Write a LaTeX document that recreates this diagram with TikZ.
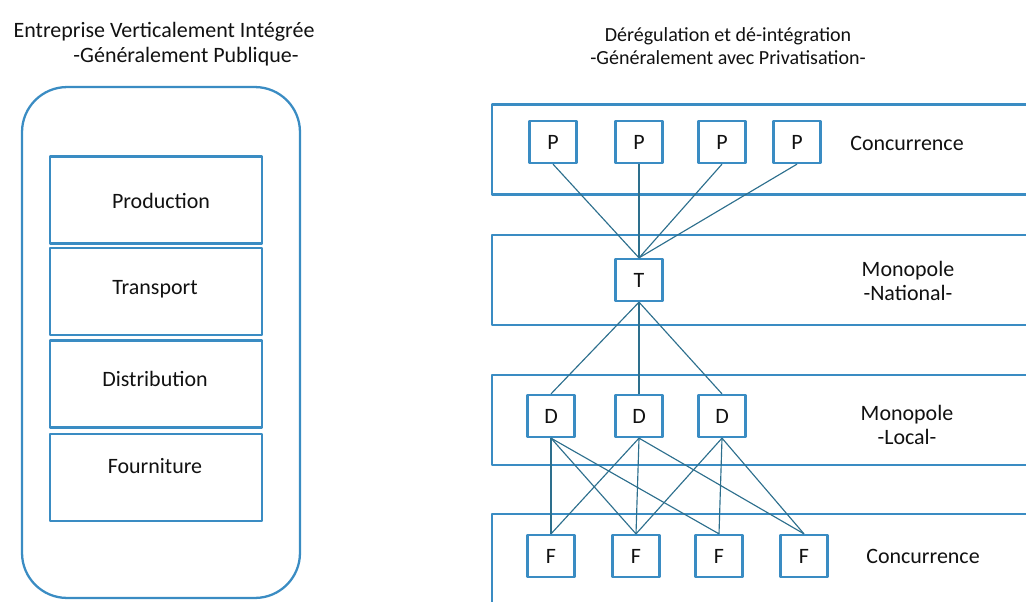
\documentclass[tikz,border=0pt]{standalone}
\usepackage{fontspec}
\setmainfont{Carlito}
\usepackage{xcolor}
\usepackage{tikz}
\usetikzlibrary{positioning}
\definecolor{udBlue}{HTML}{3A8CC3}
\definecolor{udLink}{HTML}{2D6F8D}
\definecolor{udInk}{HTML}{111111}
\tikzset{
  ud diagram/.style={font=\fontsize{12.5pt}{13.6pt}\selectfont, text=udInk,
    line join=round},
  ud frame/.style={draw=udBlue, line width=1.3pt, rounded corners=0.9cm,
    minimum width=5.56cm, minimum height=10.22cm},
  ud layer/.style={draw=udBlue, line width=1.3pt,
    minimum width=4.24cm, minimum height=1.74cm},
  ud band/.style={draw=udBlue, line width=1.3pt,
    minimum width=10.96cm, minimum height=1.8cm},
  ud actor/.style={draw=udBlue, fill=white, line width=1.3pt,
    minimum width=0.94cm, minimum height=0.84cm, inner sep=0pt},
  ud link/.style={draw=udLink, line width=0.65pt},
  ud tag/.style={align=center},
  ud heading/.style={align=center, font=\fontsize{11.4pt}{13pt}\selectfont}
}
\begin{document}
\begin{tikzpicture}[ud diagram, x=0.02cm, y=-0.02cm]
\clip (0,0) rectangle (1026,601);
% integrated firm
\node[ud tag] (titleL) at (164,32) {Entreprise Verticalement Intégrée};
\node[ud tag] (subL) at (186,57) {-Généralement Publique-};
\node[ud frame] (firm) at (161,342.5) {};
\node[ud layer] (prod) at (156,200) {};
\node[ud layer] (trans) at (156,291.5) {};
\node[ud layer] (dist) at (156,384) {};
\node[ud layer] (fourn) at (156,477.5) {};
\node (prodTxt) at (161,201) {Production};
\node (transTxt) at (155,289) {Transport};
\node (distTxt) at (155,379) {Distribution};
\node (fournTxt) at (155,466) {Fourniture};
% unbundled sector
\node[ud heading] (titleR) at (728,46) {Dérégulation et dé-intégration\\-Généralement avec Privatisation-};
\node[ud band] (bandP) at (766,149.5) {};
\node[ud band] (bandT) at (766,280) {};
\node[ud band] (bandD) at (766,420) {};
\node[ud band] (bandF) at (766,559) {};
\node[ud tag] (lblP) at (907,143) {Concurrence};
\node[ud tag] (lblT) at (908,281) {Monopole\\-National-};
\node[ud tag] (lblD) at (907,425) {Monopole\\-Local-};
\node[ud tag] (lblF) at (923,556) {Concurrence};
\node[ud actor] (p1) at (553,142) {P};
\node[ud actor] (p2) at (639,142) {P};
\node[ud actor] (p3) at (722,142) {P};
\node[ud actor] (p4) at (797,142) {P};
\node[ud actor] (t) at (639,280) {T};
\node[ud actor] (d1) at (551,416) {D};
\node[ud actor] (d2) at (639,416) {D};
\node[ud actor] (d3) at (722,416) {D};
\node[ud actor] (f1) at (551,556) {F};
\node[ud actor] (f2) at (636,556) {F};
\node[ud actor] (f3) at (719,556) {F};
\node[ud actor] (f4) at (804,556) {F};
\foreach \p in {p1,p2,p3,p4}
  \draw[ud link] (\p.south) -- (t.north);
\foreach \d in {d1,d2,d3}
  \draw[ud link] (t.south) -- (\d.north);
\foreach \d/\f in {d1/f1,d1/f2,d1/f3,d2/f1,d2/f2,d2/f4,d3/f2,d3/f3,d3/f4}
  \draw[ud link] (\d.south) -- (\f.north);
\end{tikzpicture}
\end{document}
